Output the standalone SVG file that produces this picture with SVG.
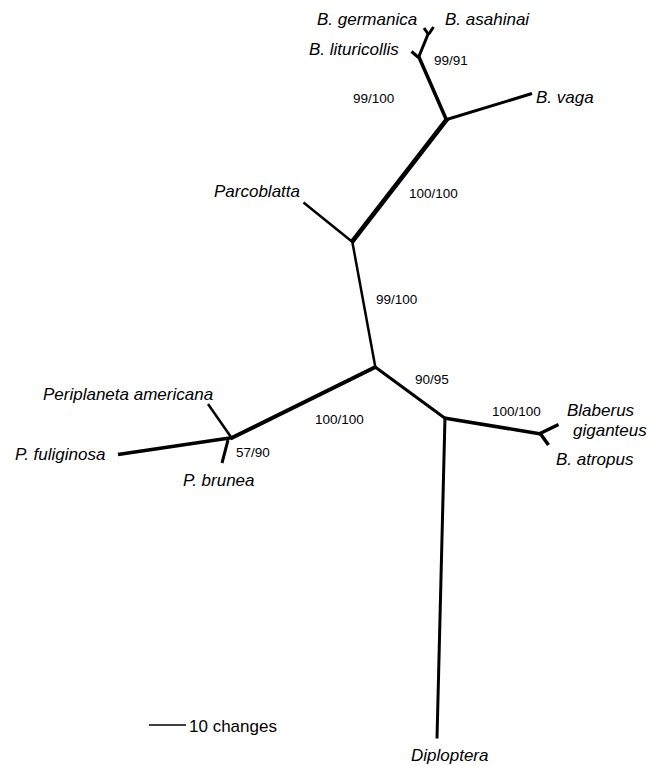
<svg xmlns="http://www.w3.org/2000/svg" width="665" height="766" viewBox="0 0 665 766">
<style>
.tx{font-family:"Liberation Sans",Arial,sans-serif;font-style:italic;font-size:17px;fill:#000}
.bs{font-family:"Liberation Sans",Arial,sans-serif;font-size:13.5px;fill:#000}
.sc{font-family:"Liberation Sans",Arial,sans-serif;font-size:17px;fill:#000}
.br{stroke:#000;fill:none;stroke-linecap:butt;stroke-linejoin:miter}
</style>
<rect width="665" height="766" fill="#fff"/>
<g id="connectors">
<line class="br" x1="424" y1="28" x2="428.5" y2="34.5" stroke-width="3"/>
<line class="br" x1="433.5" y1="27" x2="428.5" y2="34.5" stroke-width="3"/>
<line class="br" x1="428.5" y1="33" x2="418.5" y2="57.5" stroke-width="3"/>
<line class="br" x1="411.5" y1="51.5" x2="418.5" y2="57.5" stroke-width="3"/>
<line class="br" x1="418.5" y1="56" x2="446.5" y2="120" stroke-width="3.5"/>
<line class="br" x1="445" y1="120" x2="532" y2="93.5" stroke-width="3"/>
<line class="br" x1="447.5" y1="118.5" x2="351.5" y2="242.5" stroke-width="4.5"/>
<line class="br" x1="303.5" y1="202.5" x2="352.5" y2="242" stroke-width="2.5"/>
<line class="br" x1="352" y1="240" x2="375.5" y2="368" stroke-width="2.5"/>
<line class="br" x1="376.5" y1="366.5" x2="230.5" y2="438.5" stroke-width="4"/>
<line class="br" x1="208" y1="404" x2="232" y2="438.5" stroke-width="2.5"/>
<line class="br" x1="118" y1="454.5" x2="233" y2="437.5" stroke-width="3.5"/>
<line class="br" x1="228" y1="440" x2="222" y2="463" stroke-width="3"/>
<line class="br" x1="374.5" y1="366.5" x2="446" y2="419" stroke-width="3"/>
<line class="br" x1="444" y1="418" x2="541" y2="434" stroke-width="3.5"/>
<line class="br" x1="539" y1="434" x2="558.5" y2="424.5" stroke-width="3.5"/>
<line class="br" x1="539.5" y1="432.5" x2="548.5" y2="445" stroke-width="3.5"/>
<line class="br" x1="445" y1="417" x2="437" y2="738.5" stroke-width="3"/>
</g>
<g id="labels-boot">
<text class="bs" x="434" y="65">99/91</text>
<text class="bs" x="353" y="103">99/100</text>
<text class="bs" x="409" y="198">100/100</text>
<text class="bs" x="376" y="304">99/100</text>
<text class="bs" x="415" y="384">90/95</text>
<text class="bs" x="315" y="424">100/100</text>
<text class="bs" x="236" y="457">57/90</text>
<text class="bs" x="492" y="416">100/100</text>
</g>
<g id="n-germanica"><text class="tx" x="317" y="25">B. germanica</text></g>
<g id="n-asahinai"><text class="tx" x="445" y="25">B. asahinai</text></g>
<g id="n-lituricollis"><text class="tx" x="309" y="55">B. lituricollis</text></g>
<g id="n-vaga"><text class="tx" x="536" y="103">B. vaga</text></g>
<g id="n-parcoblatta"><text class="tx" x="214" y="197">Parcoblatta</text></g>
<g id="n-americana"><text class="tx" x="43" y="400">Periplaneta americana</text></g>
<g id="n-fuliginosa"><text class="tx" x="15" y="460">P. fuliginosa</text></g>
<g id="n-brunea"><text class="tx" x="183" y="486">P. brunea</text></g>
<g id="n-giganteus"><text class="tx" x="567" y="416">Blaberus</text><text class="tx" x="573" y="436">giganteus</text></g>
<g id="n-atropus"><text class="tx" x="556" y="465">B. atropus</text></g>
<g id="n-diploptera"><text class="tx" x="411" y="761">Diploptera</text></g>
<g id="scale">
<line x1="149" y1="725" x2="186" y2="725" stroke="#000" stroke-width="1.5"/>
<text class="sc" x="189" y="732">10 changes</text>
</g>
</svg>
